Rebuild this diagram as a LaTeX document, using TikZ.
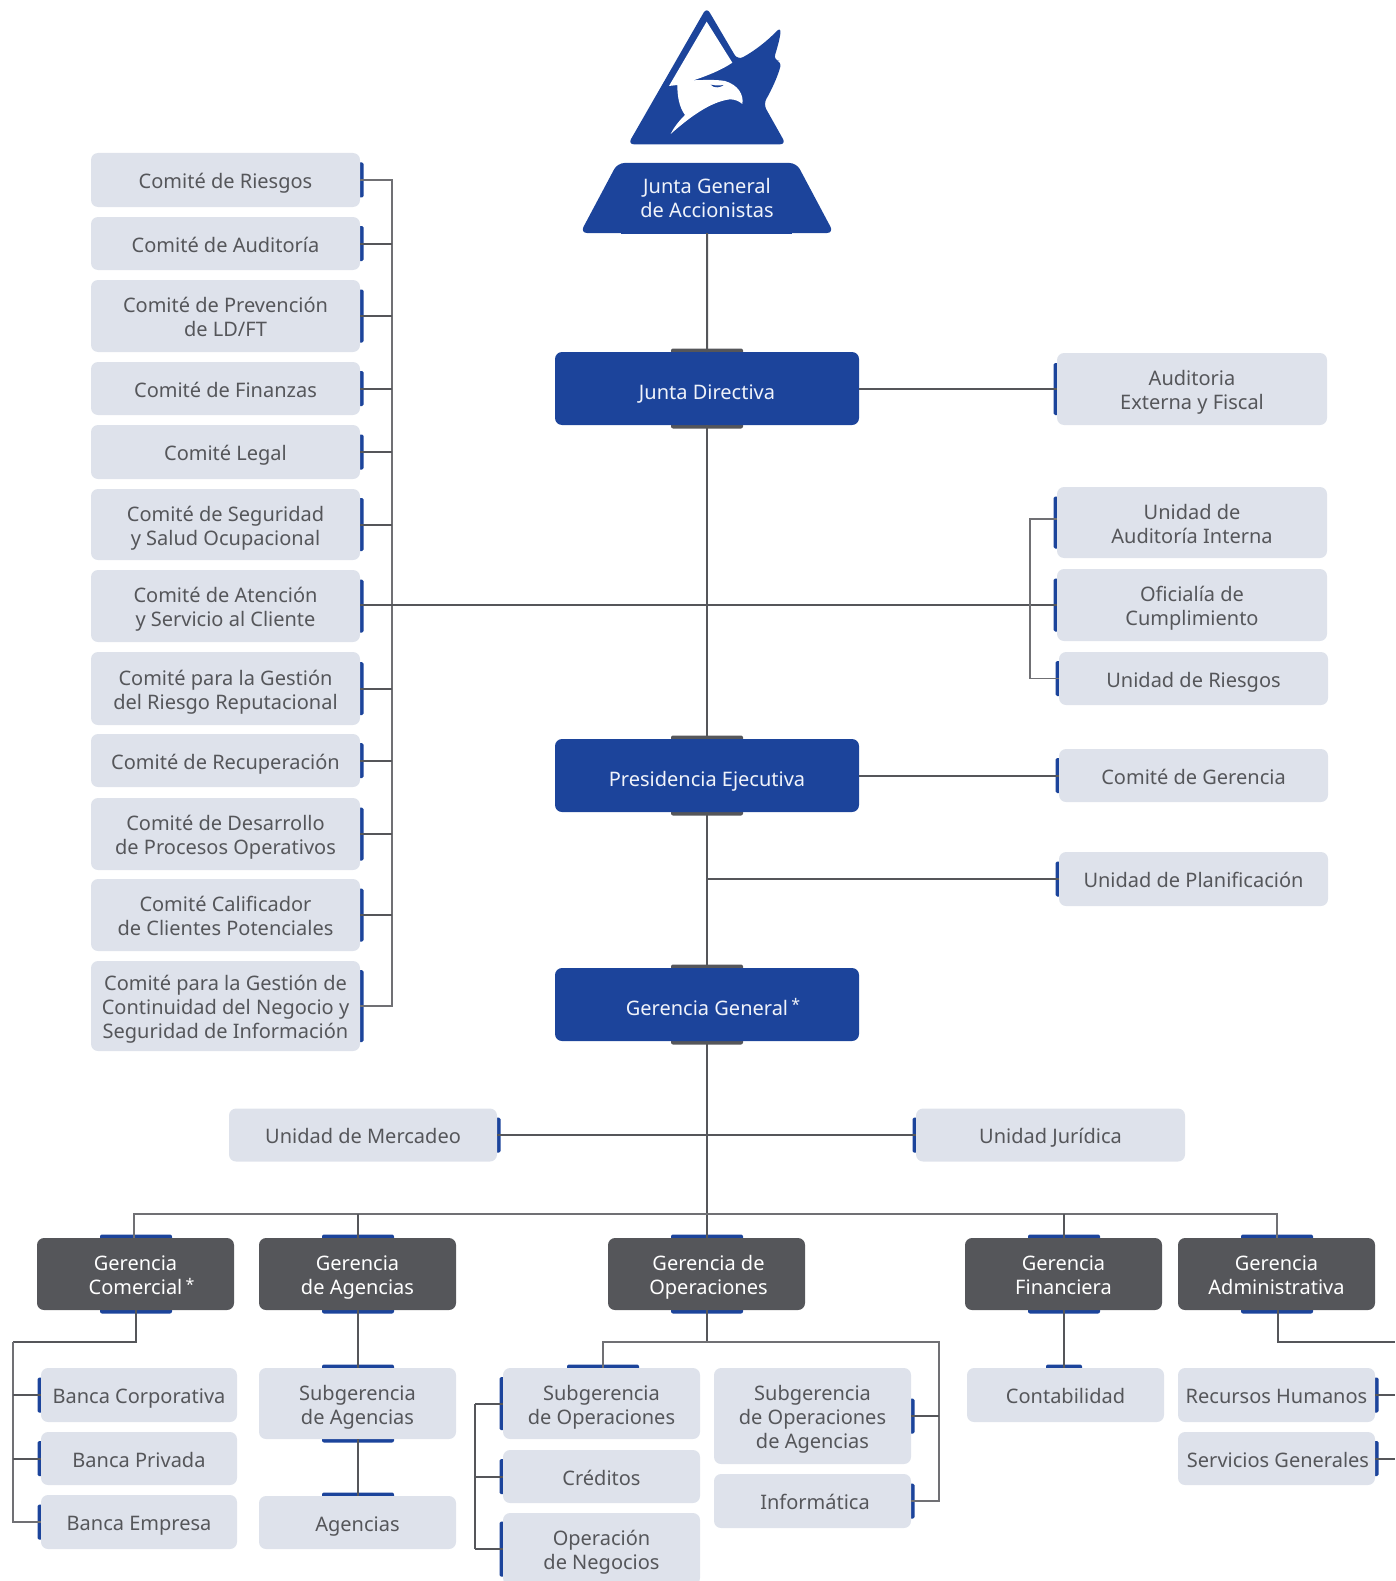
\documentclass[tikz,border=0pt]{standalone}
\usepackage{fontspec}
\setmainfont{Noto Sans}
\usetikzlibrary{calc,backgrounds,shapes.geometric}
\definecolor{brand}{HTML}{1C449B}
\definecolor{slate}{HTML}{55565A}
\definecolor{soft}{HTML}{DEE2EB}
\definecolor{thinline}{HTML}{707074}
\definecolor{paper}{HTML}{F0F3FA}
\lineskiplimit=-30pt
\lineskip=0pt
\newcommand{\lstrut}{\rule[-6pt]{0pt}{29.4pt}}
\newcommand{\tstrut}{\rule[-6pt]{0pt}{27pt}}
\newcommand{\lowered}[1]{\smash{\raisebox{-2.1pt}{#1}}}
\newcommand{\astmark}{\rlap{\,\raisebox{4.5pt}{\fontsize{16}{16}\selectfont *}}}
\tikzset{
  base/.style={inner sep=0pt,outer sep=0pt,align=center,rounded corners=7pt,font=\fontsize{20}{24}\selectfont},
  softbox/.style={base,fill=soft,text=slate},
  darkbox/.style={base,fill=slate,text=white},
  bluebox/.style={base,fill=brand,text=paper},
  wire/.style={draw=slate,line width=2pt},
  thinwire/.style={draw=thinline,line width=1.5pt},
}
\newcommand{\bx}[7]{\node[#2,minimum width={(#5-#3)*1pt},minimum height={(#6-#4)*1pt}] (#1) at ({(#3+#5)/2},{(#4+#6)/2}) {\lstrut #7\lstrut};}
\newcommand{\barL}[2]{\begin{pgfonlayer}{background}\fill[brand,rounded corners=1.5pt] ($(#1.west)+(-3.5,{-#2/2})$) rectangle ($(#1.west)+(3,{#2/2})$);\end{pgfonlayer}}
\newcommand{\barR}[2]{\begin{pgfonlayer}{background}\fill[brand,rounded corners=1.5pt] ($(#1.east)+(-3,{-#2/2})$) rectangle ($(#1.east)+(3.5,{#2/2})$);\end{pgfonlayer}}
\newcommand{\tabT}[4]{\begin{pgfonlayer}{background}\fill[#4,rounded corners=2pt] ($(#1.north)+({#2-#3/2},-3.5)$) rectangle ($(#1.north)+({#2+#3/2},3)$);\end{pgfonlayer}}
\newcommand{\tabB}[4]{\begin{pgfonlayer}{background}\fill[#4,rounded corners=2pt] ($(#1.south)+({#2-#3/2},-3)$) rectangle ($(#1.south)+({#2+#3/2},3.5)$);\end{pgfonlayer}}
\begin{document}
\begin{tikzpicture}[x=1pt,y=-1pt]
\useasboundingbox (0,0) rectangle (1395,1581);
\clip (0,0) rectangle (1395,1581);
% logo
\begin{scope}[shift={(560,0)},x=0.3333pt,y=-0.3333pt]
\fill[brand,rounded corners=6pt] (440,22) -- (204,433) -- (678,433) -- (610,312)
  .. controls (635,270) and (655,225) .. (665,183) -- (640,181) .. controls (650,150) and (660,115) .. (663,80)
  .. controls (620,125) and (580,155) .. (533,180) -- cycle;
\fill[white] (440,65) -- (327,258) -- (352,255) .. controls (352,290) and (358,322) .. (375,345)
  .. controls (355,365) and (340,385) .. (332,402) .. controls (385,355) and (450,305) .. (510,298)
  .. controls (525,298) and (538,304) .. (547,312) .. controls (552,285) and (535,255) .. (495,243)
  .. controls (465,238) and (430,240) .. (400,241) .. controls (440,228) and (485,210) .. (517,188) -- cycle;
\fill[brand] (452,254) .. controls (465,257) and (480,257) .. (491,255) .. controls (482,263) and (462,266) .. (452,254) -- cycle;
\end{scope}
% top nodes
\node[trapezium,trapezium left angle=61.5,trapezium right angle=61.5,trapezium stretches=true,fill=brand,text=paper,
  rounded corners=7pt,inner sep=0pt,outer sep=0pt,align=center,font=\fontsize{20}{24}\selectfont,
  minimum width=254pt,minimum height=70pt] (jg) at (707,198) {\tstrut Junta General\\de Accionistas\tstrut};
\begin{pgfonlayer}{background}\fill[brand] (621,225) rectangle (792,234);\end{pgfonlayer}
\bx{jd}{bluebox}{555}{352}{859}{425}{\lowered{Junta Directiva}}
\bx{pe}{bluebox}{555}{739}{859}{812}{\lowered{Presidencia Ejecutiva}}
\bx{gg}{bluebox}{555}{968}{859}{1041}{\lowered{Gerencia General\astmark}}
\foreach \n in {jd,pe,gg}{\tabT{\n}{0}{72}{slate}\tabB{\n}{0}{72}{slate}}
% committees
\bx{c1}{softbox}{91}{153}{360}{207}{Comité de Riesgos}
\bx{c2}{softbox}{91}{217}{360}{270}{Comité de Auditoría}
\bx{c3}{softbox}{91}{280}{360}{352}{Comité de Prevención\\de LD/FT}
\bx{c4}{softbox}{91}{362}{360}{415}{Comité de Finanzas}
\bx{c5}{softbox}{91}{425}{360}{479}{Comité Legal}
\bx{c6}{softbox}{91}{489}{360}{560}{Comité de Seguridad\\y Salud Ocupacional}
\bx{c7}{softbox}{91}{570}{360}{642}{Comité de Atención\\y Servicio al Cliente}
\bx{c8}{softbox}{91}{652}{360}{725}{Comité para la Gestión\\del Riesgo Reputacional}
\bx{c9}{softbox}{91}{734}{360}{787}{Comité de Recuperación}
\bx{c10}{softbox}{91}{798}{360}{870}{Comité de Desarrollo\\de Procesos Operativos}
\bx{c11}{softbox}{91}{879}{360}{951}{Comité Calificador\\de Clientes Potenciales}
\bx{c12}{softbox}{91}{961}{360}{1051}{Comité para la Gestión de\\Continuidad del Negocio y\\Seguridad de Información}
\foreach \n in {c1,c2,c4,c5,c9}{\barR{\n}{35}}
\foreach \n in {c3,c6,c7,c8,c10,c11}{\barR{\n}{53}}
\barR{c12}{72}
% right column
\bx{au}{softbox}{1057}{353}{1327}{425}{Auditoria\\Externa y Fiscal}
\bx{ua}{softbox}{1057}{487}{1327}{558}{Unidad de\\Auditoría Interna}
\bx{of}{softbox}{1057}{569}{1327}{641}{Oficialía de\\Cumplimiento}
\bx{ur}{softbox}{1059}{652}{1328}{705}{Unidad de Riesgos}
\bx{cg}{softbox}{1059}{749}{1328}{802}{Comité de Gerencia}
\bx{pl}{softbox}{1059}{852}{1328}{906}{Unidad de Planificación}
\barL{au}{52}\barL{ua}{52}\barL{of}{53}\barL{ur}{35}\barL{cg}{35}\barL{pl}{35}
% staff units
\bx{me}{softbox}{229}{1108.5}{497}{1161.5}{Unidad de Mercadeo}
\bx{ju}{softbox}{916}{1108.5}{1185}{1161.5}{Unidad Jurídica}
\barR{me}{35}\barL{ju}{35}
% managements
\bx{gc}{darkbox}{37}{1238}{234}{1310}{Gerencia\\Comercial\astmark}
\bx{ga}{darkbox}{259}{1238}{456}{1310}{Gerencia\\de Agencias}
\bx{go}{darkbox}{608}{1238}{805}{1310}{\hspace*{4pt}Gerencia de\\\hspace*{4pt}Operaciones}
\bx{gf}{darkbox}{965}{1238}{1162}{1310}{Gerencia\\Financiera}
\bx{gd}{darkbox}{1178}{1238}{1375}{1310}{Gerencia\\Administrativa}
\foreach \n in {gc,ga,go,gf,gd}{\tabT{\n}{0.5}{72}{brand}\tabB{\n}{0.5}{72}{brand}}
% lower boxes
\bx{b1}{softbox}{41}{1368}{237}{1422}{Banca Corporativa}
\bx{b2}{softbox}{41}{1432}{237}{1485}{Banca Privada}
\bx{b3}{softbox}{41}{1495}{237}{1549}{Banca Empresa}
\foreach \n in {b1,b2,b3}{\barL{\n}{35}}
\bx{sa}{softbox}{259}{1368}{456}{1439}{Subgerencia\\de Agencias}
\bx{ag}{softbox}{259}{1496}{456}{1549}{Agencias}
\tabT{sa}{0.5}{72}{brand}\tabB{sa}{0.5}{72}{brand}\tabT{ag}{0.5}{72}{brand}
\bx{so}{softbox}{503}{1368}{700}{1439}{Subgerencia\\de Operaciones}
\bx{cr}{softbox}{503}{1450}{700}{1503}{Créditos}
\bx{on}{softbox}{503}{1513}{700}{1585}{Operación\\de Negocios}
\tabT{so}{1.5}{72}{brand}\barL{so}{53}\barL{cr}{35}\barL{on}{55}
\bx{sg}{softbox}{714}{1368}{911}{1464}{Subgerencia\\de Operaciones\\de Agencias}
\bx{in}{softbox}{714}{1474}{911}{1528}{\hspace*{5pt}Informática}
\barR{sg}{35}\barR{in}{35}
\bx{co}{softbox}{967}{1368}{1164}{1422}{Contabilidad}
\tabT{co}{-1.5}{36}{brand}
\bx{rh}{softbox}{1178}{1368}{1375}{1422}{Recursos Humanos}
\bx{sv}{softbox}{1178}{1432}{1375}{1485}{\hspace*{3pt}Servicios Generales}
\barR{rh}{35}\barR{sv}{35}
% coordinates
\coordinate (lbus) at (392,0);
\coordinate (rbus) at (1030,0);
\coordinate (bus) at (707,1214);
\coordinate (bcL) at (13,1342);
\coordinate (ops) at (707,1342);
\coordinate (opsL) at (475,0);
\coordinate (opsR) at (939,0);
\coordinate (adm) at (1395,1342);
% spine
\draw[wire] (jg.south) -- (jd.north);
\draw[wire] (jd.south) -- (pe.north);
\draw[wire] (pe.south) -- (gg.north);
\draw[wire] (gg.south) -- (bus);
\draw[wire] (bus) -- (go.north -| bus);
\draw[wire] (jd.east) -- (jd.east -| au.west);
\draw[wire] (pe.east) -- (pe.east -| cg.west);
\draw[wire] (pl.west) -- (pl.west -| pe.south);
\draw[wire] (me.east) -- (me.east -| ju.west);
% committees
\draw[thinwire] (c1.east) -- (c1.east -| lbus) -- (c12.east -| lbus) -- (c12.east);
\foreach \n in {c2,c3,c4,c5,c6,c8,c9,c10,c11}{\draw[wire] (\n.east) -- (\n.east -| lbus);}
\draw[wire] (of.west -| c7.east) -- (of.west);
% right group
\draw[thinwire] ($(ua.west)+(0,-3.5)$) -| (rbus |- ur.west) -- (ur.west);
% bus
\draw[thinwire] ([xshift=-1.5pt]gc.north) |- (bus) -| ([xshift=0.5pt]gd.north);
\draw[wire] (ga.north) -- (ga.north |- bus);
\draw[wire] (gf.north) -- (gf.north |- bus);
% below managements
\draw[wire] ([xshift=0.5pt]gc.south) |- (bcL);
\draw[thinwire] (bcL) |- (b3.west);
\draw[wire] (b1.west) -- (b1.west -| bcL);
\draw[wire] (b2.west) -- (b2.west -| bcL);
\draw[wire] (ga.south) -- (sa.north);
\draw[wire] (sa.south) -- (ag.north);
\draw[wire] (go.south -| ops) -- (ops);
\draw[thinwire] ([xshift=1.5pt]so.north) |- (ops) -| (in.east -| opsR) -- (in.east);
\draw[wire] (sg.east) -- (sg.east -| opsR);
\draw[wire] (so.west -| opsL) -- (so.west);
\draw[wire] (cr.west -| opsL) -- (cr.west);
\draw[wire] (on.west -| opsL) -- (so.west -| opsL) (on.west -| opsL) -- (on.west);
\draw[wire] (gf.south) -- (gf.south |- co.north);
\draw[wire] ([xshift=1.5pt]gd.south) |- (adm);
\draw[wire] (rh.east) -- (rh.east -| adm);
\draw[wire] (sv.east) -- (sv.east -| adm);
\end{tikzpicture}
\end{document}
